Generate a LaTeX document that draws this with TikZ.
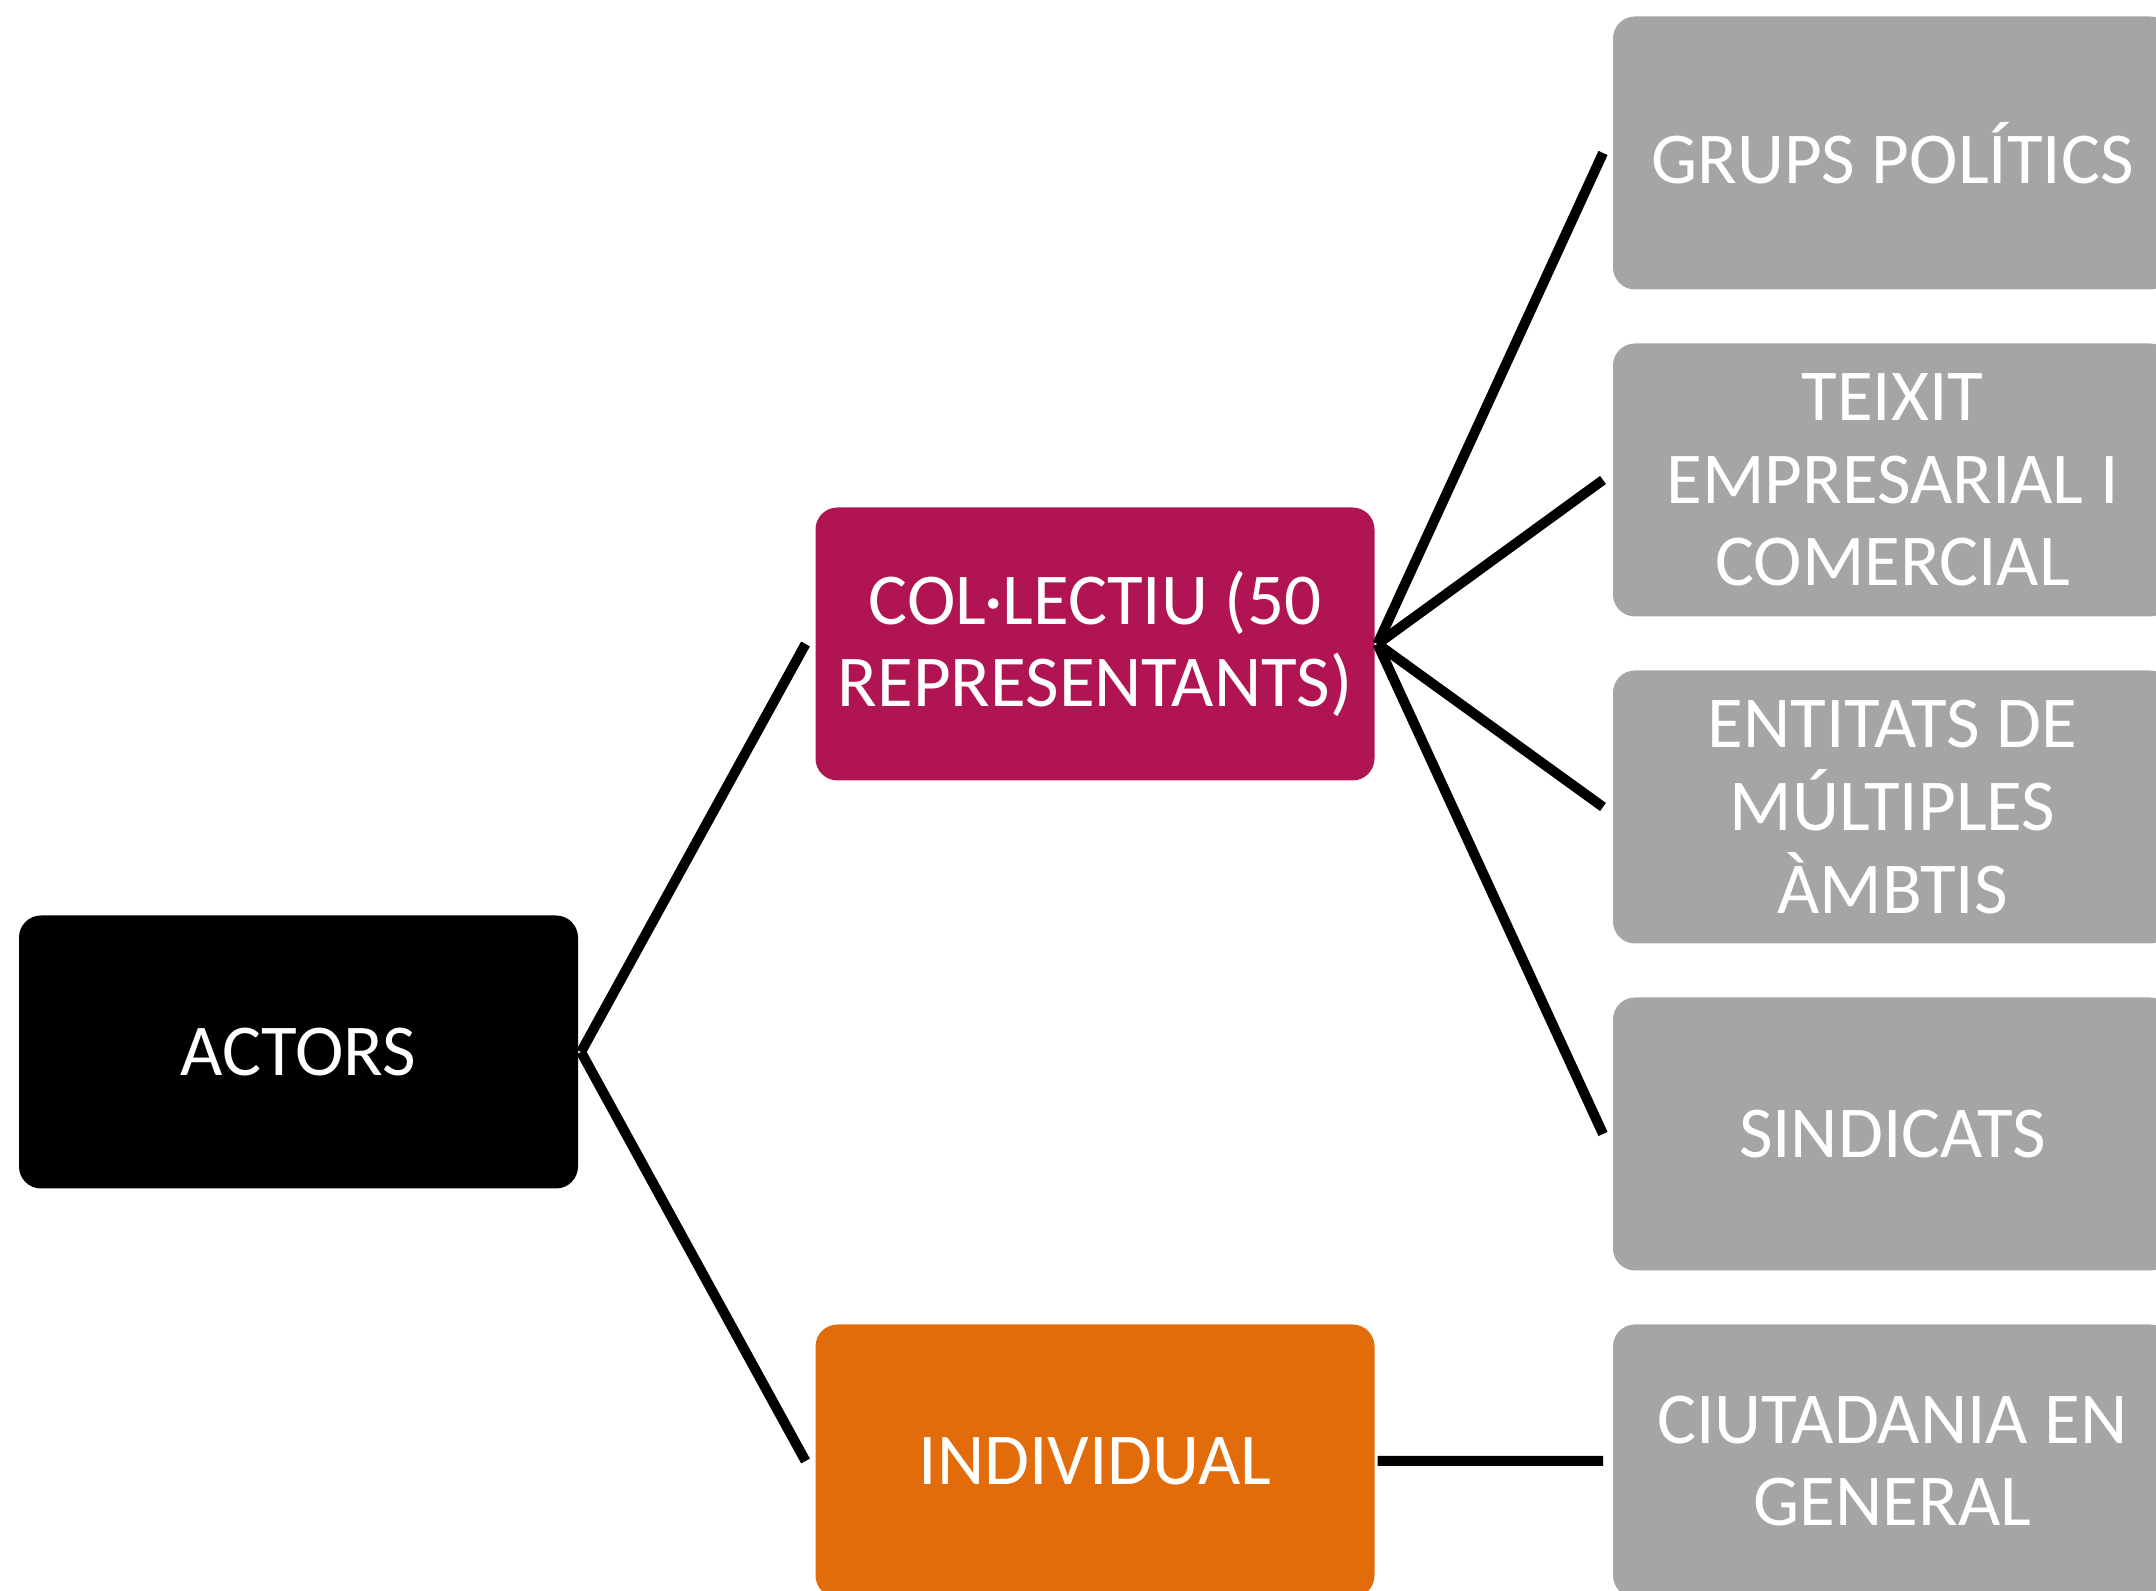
\documentclass[tikz,border=0pt]{standalone}
\usepackage{fontspec}
\setmainfont{Carlito}
\usetikzlibrary{positioning}
\definecolor{boxmagenta}{RGB}{176,20,82}
\definecolor{boxorange}{RGB}{227,108,10}
\definecolor{boxgrey}{RGB}{165,165,165}
\begin{document}
\begin{tikzpicture}[line width=0.1cm,
                    main node/.style={rectangle,rounded corners=0.22cm,minimum width=5.59cm,minimum height=2.73cm,
                                      inner sep=0pt,outer sep=0pt,align=center,text=white,font=\fontsize{20.8}{23.5}\selectfont},
                    sub node/.style={main node,fill=boxgrey}]
  \clip (0,0) rectangle (21.56,15.91);

  \node[main node,fill=black] (actors) at (2.985,5.39) {ACTORS};
  \node[main node,fill=boxmagenta] (collectiu) at (10.95,9.47) {COL·LECTIU (50\\REPRESENTANTS)};
  \node[main node,fill=boxorange] (individual) at (10.95,1.30) {INDIVIDUAL};

  \node[sub node] (grups) at (18.925,14.38) {GRUPS POLÍTICS};
  \node[sub node] (teixit) [below=0.54cm of grups] {TEIXIT\\EMPRESARIAL I\\COMERCIAL};
  \node[sub node] (entitats) [below=0.54cm of teixit] {ENTITATS DE\\MÚLTIPLES\\ÀMBTIS};
  \node[sub node] (sindicats) [below=0.54cm of entitats] {SINDICATS};
  \node[sub node] (ciutadania) [below=0.54cm of sindicats] {CIUTADANIA EN\\GENERAL};

  \path ([xshift=0.03cm]actors.east) edge ([xshift=-0.1cm]collectiu.west)
                                     edge ([xshift=-0.1cm]individual.west)
        ([xshift=0.03cm]collectiu.east) edge ([xshift=-0.1cm]grups.west)
                                        edge ([xshift=-0.1cm]teixit.west)
                                        edge ([xshift=-0.1cm]entitats.west)
                                        edge ([xshift=-0.1cm]sindicats.west)
        ([xshift=0.03cm]individual.east) edge ([xshift=-0.1cm]ciutadania.west);
\end{tikzpicture}
\end{document}
